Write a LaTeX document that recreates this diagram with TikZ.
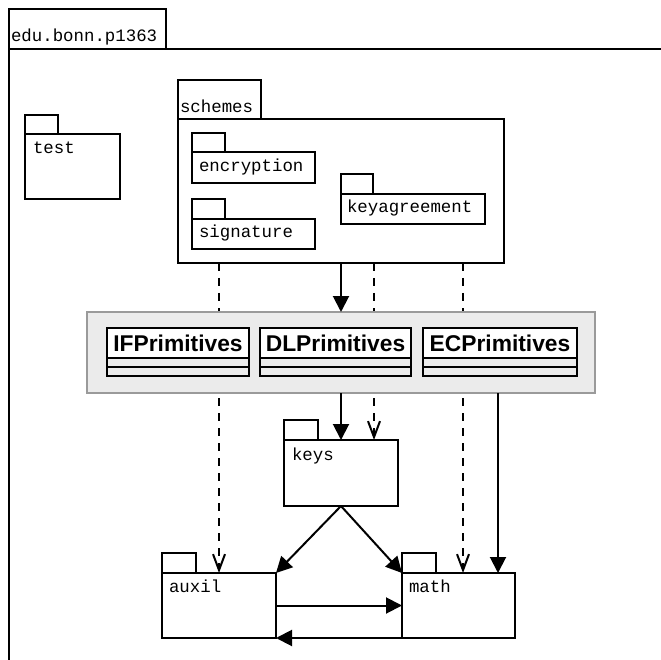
\documentclass[tikz,border=0pt]{standalone}
\usepackage{fontspec}
\setmainfont{Liberation Sans}
\setmonofont{Liberation Mono}
\usetikzlibrary{arrows.meta}
\definecolor{groupfill}{HTML}{EBEBEB}
\definecolor{grouprim}{HTML}{9A9A9A}

% #1 name, #2 x, #3 y of body top, #4 body width, #5 body height,
% #6 tab width, #7 tab height, #8 label, #9 label offset from body corner
\newcommand\umlpkg[9]{%
  \node[pkgbody, minimum width=#4pt, minimum height=#5pt] (#1) at (#2,#3) {};
  \draw (#1.north west) rectangle ++(#6,-#7);
  \node[pkglabel] at ([shift={#9}]#1.north west) {#8};
}
% #1 name, #2 x, #3 y, #4 width, #5 class name
\newcommand\umlclass[5]{%
  \node[classname, minimum width=#4pt] (#1) at (#2,#3) {#5};
  \draw (#1.south west) rectangle ([yshift=-9pt]#1.south east);
  \draw ([yshift=-9pt]#1.south west) rectangle ([yshift=-18pt]#1.south east);
}

\begin{document}
\begin{tikzpicture}[x=1pt,y=-1pt,line width=2pt,
  every node/.style={inner sep=0pt,outer sep=0pt},
  pkgbody/.style={draw,fill=white,anchor=north west},
  pkglabel/.style={anchor=base west,font=\fontsize{17.4}{17.4}\ttfamily},
  classname/.style={draw,fill=white,anchor=north west,minimum height=30pt,
    font=\fontsize{22.8}{22.8}\selectfont\bfseries},
  group/.style={draw=grouprim,fill=groupfill,anchor=north west},
  imp/.style={-{Triangle[length=16pt,width=16pt]}},
  dep/.style={dash pattern=on 8pt off 7pt,-{Straight Barb[length=16pt,width=12pt]}}]

\useasboundingbox (0,0) rectangle (661,660);

% enclosing package, body runs past the page edge
\umlpkg{root}{9}{49}{700}{700}{157}{40}{edu.bonn.p1363}{(2,-7)}

\umlpkg{test}{25}{134}{95}{65}{33}{19}{test}{(8,20)}

\umlpkg{schemes}{178}{119}{326}{144}{83}{39}{schemes}{(2,-6)}
\umlpkg{enc}{192}{152}{123}{31}{33}{19}{encryption}{(7,20)}
\umlpkg{sig}{192}{219}{123}{30}{33}{20}{signature}{(7,19)}
\umlpkg{keyag}{341}{194}{144}{30}{32}{20}{keyagreement}{(6,19)}

\umlpkg{keys}{284}{440}{114}{66}{34}{20}{keys}{(8,20)}
\umlpkg{auxil}{162}{573}{114}{65}{34}{20}{auxil}{(7,19)}
\umlpkg{math}{402}{573}{113}{65}{34}{20}{math}{(7,19)}

% dependencies that pass behind the primitives group
\coordinate (d1) at ([xshift=41pt]schemes.south west);
\coordinate (d2) at ([xshift=196pt]schemes.south west);
\coordinate (d3) at ([xshift=285pt]schemes.south west);
\coordinate (s1) at ([xshift=163pt]schemes.south west);
\draw[dep] (d1) -- (d1 |- auxil.north);
\draw[dep] (d2) -- (d2 |- keys.north);
\draw[dep] (d3) -- (d3 |- math.north);

% primitives group
\node[group,minimum width=508pt,minimum height=81pt] (prims) at (87,312) {};
\umlclass{ifp}{107}{328}{142}{IFPrimitives}
\umlclass{dlp}{260}{328}{151}{DLPrimitives}
\umlclass{ecp}{423}{328}{154}{ECPrimitives}

% solid dependencies
\draw[imp] (s1) -- (s1 |- prims.north);
\draw[imp] (prims.south -| keys.north) -- (keys.north);
\coordinate (m1) at ([xshift=-17pt]math.north east);
\draw[imp] (m1 |- prims.south) -- (m1);
\draw[imp] (keys.south) -- (auxil.north east);
\draw[imp] (keys.south) -- (math.north west);
\draw[imp] (auxil.east) -- (auxil.east -| math.west);
\draw[imp] (math.south west) -- (auxil.south east);

\end{tikzpicture}
\end{document}
